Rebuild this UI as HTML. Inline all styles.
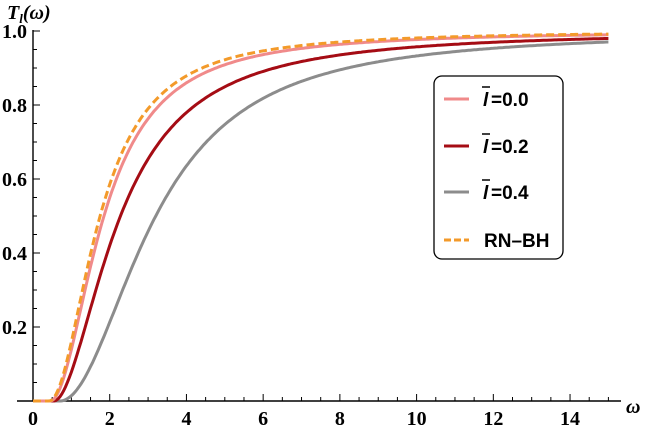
<!DOCTYPE html>
<html><head><meta charset="utf-8"><style>
html,body{margin:0;padding:0;background:#fff;}
svg{display:block;font-family:"Liberation Serif",serif;}
</style></head><body>
<svg id="s" width="650" height="430" viewBox="0 0 650 430" xmlns="http://www.w3.org/2000/svg">
<g stroke="#000" stroke-width="1.4" fill="none">
<line x1="17" y1="401" x2="621" y2="401"/>
<line x1="33" y1="401" x2="33" y2="30"/>
</g>
<g id="ticks" stroke="#000" stroke-width="1"></g>
<g font-weight="bold" font-size="20" fill="#000" id="labels"></g>
<text x="7" y="19" font-size="20" font-weight="bold" font-style="italic">T<tspan font-size="13" dy="4">l</tspan><tspan dy="-4">(ω)</tspan></text>
<text x="626" y="413" font-size="20" font-weight="bold" font-style="italic">ω</text>
<g id="curves" fill="none"></g>
<rect x="434" y="76" width="129" height="183" rx="8" fill="#fff" stroke="#000" stroke-width="1.3"/>
<g font-family="Liberation Sans,sans-serif" font-weight="bold" font-size="19">
<line x1="444" y1="99" x2="469" y2="99" stroke="#f08a8a" stroke-width="3"/>
<text x="483" y="106" font-style="italic">l</text><line x1="482" y1="87" x2="490" y2="87" stroke="#000" stroke-width="1.5"/><text x="491" y="106">=0.0</text>
<line x1="444" y1="146" x2="469" y2="146" stroke="#a50c14" stroke-width="3"/>
<text x="483" y="153" font-style="italic">l</text><line x1="482" y1="134" x2="490" y2="134" stroke="#000" stroke-width="1.5"/><text x="491" y="153">=0.2</text>
<line x1="444" y1="192" x2="469" y2="192" stroke="#8c8c8c" stroke-width="3"/>
<text x="483" y="199" font-style="italic">l</text><line x1="482" y1="180" x2="490" y2="180" stroke="#000" stroke-width="1.5"/><text x="491" y="199">=0.4</text>
<line x1="444" y1="240" x2="469" y2="240" stroke="#f39a2a" stroke-width="3" stroke-dasharray="7,3"/>
<text x="484" y="247">RN–BH</text>
</g>
</svg>
<script>
var X0=33,SX=38.36,Y0=401,SY=370,ns="http://www.w3.org/2000/svg";
function px(w){return X0+w*SX}function py(t){return Y0-t*SY}
var tk=document.getElementById("ticks"),lb=document.getElementById("labels");
function add(p,tag,a,txt){var e=document.createElementNS(ns,tag);for(var k in a)e.setAttribute(k,a[k]);if(txt)e.textContent=txt;p.appendChild(e);}
for(var i=0;i<=15;i+=0.5){var big=(i%2==0);add(tk,"line",{x1:px(i),x2:px(i),y1:401,y2:401-(big?7:4)});if(big)add(lb,"text",{x:px(i),y:425,"text-anchor":"middle"},String(i));}
for(var j=0;j<=20;j++){var t=j*0.05;var big=(j%4==0);add(tk,"line",{x1:33,x2:33+(big?7:4),y1:py(t),y2:py(t)});if(big&&j>0)add(lb,"text",{x:27,y:py(t)+7,"text-anchor":"end"},t.toFixed(1));}
var cv=document.getElementById("curves");
function curve(x0,n,k,col,dash){var d="";for(var w=0;w<=15.001;w+=0.05){var x=Math.max(0,w-x0);var T=x<=0?0:Math.pow(x,n)/(Math.pow(x,n)+Math.pow(k,n));d+=(d?"L":"M")+px(w).toFixed(1)+","+py(T).toFixed(1);}
var a={d:d,stroke:col,"stroke-width":3};if(dash)a["stroke-dasharray"]=dash;add(cv,"path",a);}
curve(0.7,2.0,2.5,"#8c8c8c");
curve(0.55,1.83,1.73,"#a50c14");
curve(0.45,1.95,1.40,"#f08a8a");
curve(0.42,2.0,1.33,"#f39a2a","8,4");
</script>
</body></html>
